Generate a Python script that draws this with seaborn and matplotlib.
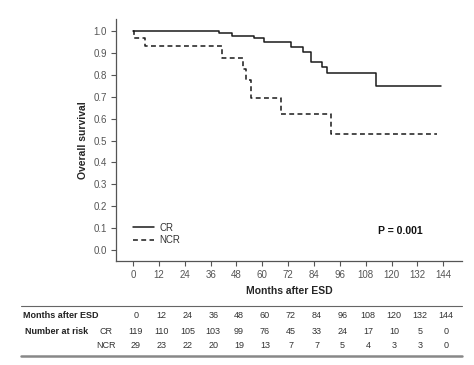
import numpy as np
import pandas as pd
import matplotlib
matplotlib.use("Agg")
import matplotlib.pyplot as plt
import matplotlib.transforms as mtransforms
from matplotlib.lines import Line2D
import seaborn as sns

# --- data ---
cr_months = [0, 40, 46, 56, 61, 73.5, 79, 82.5, 87.5, 90, 113, 143]
cr_surv = [1.0, 0.99, 0.976, 0.969, 0.951, 0.928, 0.906, 0.858, 0.837, 0.81, 0.75, 0.75]
ncr_months = [0, 0.4, 5.5, 41.5, 51, 52.2, 54.7, 68.5, 92, 141]
ncr_surv = [1.0, 0.966, 0.931, 0.879, 0.828, 0.777, 0.694, 0.621, 0.528, 0.528]

risk_months = [0, 12, 24, 36, 48, 60, 72, 84, 96, 108, 120, 132, 144]
risk_cr = [119, 110, 105, 103, 99, 76, 45, 33, 24, 17, 10, 5, 0]
risk_ncr = [29, 23, 22, 20, 19, 13, 7, 7, 5, 4, 3, 3, 0]
p_text = "P = 0.001"

df = pd.concat([
    pd.DataFrame({"month": cr_months, "surv": cr_surv, "group": "CR"}),
    pd.DataFrame({"month": ncr_months, "surv": ncr_surv, "group": "NCR"}),
])

sns.set_style("ticks")
plt.rcParams["font.family"] = ["Liberation Sans", "DejaVu Sans"]

fig = plt.figure(figsize=(4.74, 3.65), dpi=100)
ax = fig.add_axes([0.245, 0.285, 0.73, 0.663])

grey = "#555555"
sns.lineplot(data=df, x="month", y="surv", hue="group", style="group",
             palette={"CR": "#1a1a1a", "NCR": "#1a1a1a"},
             dashes={"CR": "", "NCR": (3.2, 2.2)},
             drawstyle="steps-post", estimator=None, sort=False,
             linewidth=1.1, ax=ax)

ax.set_xlim(-7.9, 152.8)
ax.set_ylim(-0.05, 1.055)
ax.set_xticks(risk_months)
ax.set_yticks(np.arange(0, 1.01, 0.1))
ax.set_yticklabels([f"{v:.1f}" for v in np.arange(0, 1.01, 0.1)])
ax.tick_params(labelsize=7, colors=grey, length=3.5, width=0.8, pad=3)
for s in ["left", "bottom"]:
    ax.spines[s].set_color(grey)
    ax.spines[s].set_linewidth(0.9)
sns.despine(ax=ax)

ax.set_xlabel("Months after ESD", fontsize=7.5, fontweight="bold", labelpad=4)
ax.set_ylabel("Overall survival", fontsize=7.5, fontweight="bold", labelpad=4)

leg = ax.legend(loc="lower left", bbox_to_anchor=(0.035, 0.045), frameon=False,
                fontsize=7, handlelength=2.2, handletextpad=0.5,
                labelspacing=0.25, borderpad=0)
for t in leg.get_texts():
    t.set_color("#333333")

ax.text(0.82, 0.125, p_text, transform=ax.transAxes, ha="center", va="center",
        fontsize=7.5, fontweight="bold", color="#111111")

# --- number-at-risk table ---
trans = mtransforms.blended_transform_factory(ax.transData, fig.transFigure)
row_y = [1 - 315 / 365, 1 - 331 / 365, 1 - 346 / 365]
for m, c, n in zip(risk_months, risk_cr, risk_ncr):
    ax.text(m + 1.2, row_y[0], str(m), transform=trans, ha="center", va="center",
            fontsize=6.5, color="#333333", clip_on=False)
    ax.text(m + 1.2, row_y[1], str(c), transform=trans, ha="center", va="center",
            fontsize=6.5, color="#333333", clip_on=False)
    ax.text(m + 1.2, row_y[2], str(n), transform=trans, ha="center", va="center",
            fontsize=6.5, color="#333333", clip_on=False)

fig.text(23 / 474, row_y[0], "Months after ESD", ha="left", va="center",
         fontsize=6.5, fontweight="bold", color="#222222")
fig.text(57 / 474, row_y[1], "Number at risk", ha="center", va="center",
         fontsize=6.5, fontweight="bold", color="#222222")
fig.text(106 / 474, row_y[1], "CR", ha="center", va="center",
         fontsize=6.5, color="#333333")
fig.text(106 / 474, row_y[2], "NCR", ha="center", va="center",
         fontsize=6.5, color="#333333")

fig.add_artist(Line2D([21 / 474, 462 / 474], [1 - 306 / 365] * 2,
                      color="#666666", linewidth=0.8))
fig.add_artist(Line2D([21 / 474, 462 / 474], [1 - 356 / 365] * 2,
                      color="#888888", linewidth=1.8))

fig.savefig("out.png", dpi=100)
